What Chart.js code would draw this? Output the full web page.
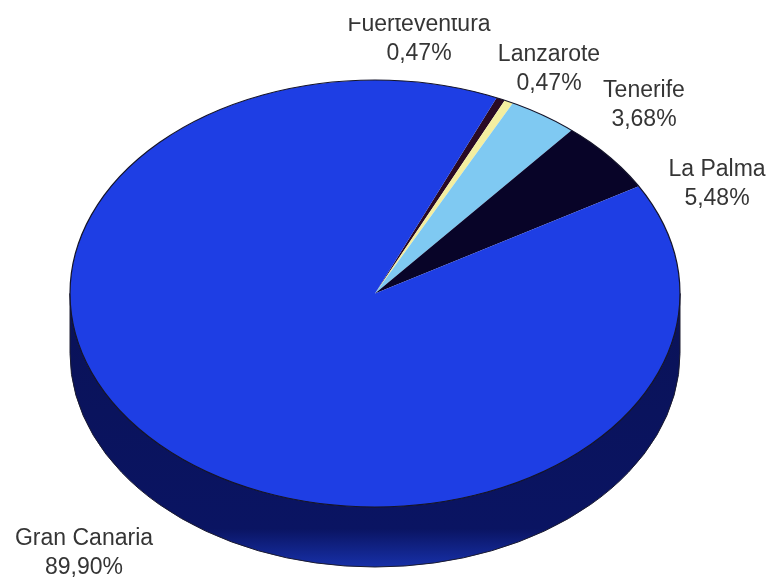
<!DOCTYPE html>
<html>
<head>
<meta charset="utf-8">
<style>
  html, body { margin: 0; padding: 0; background: #fff; }
  #wrap { width: 771px; height: 580px; }
</style>
<script src="https://cdn.jsdelivr.net/npm/chart.js@4"></script>
</head>
<body>
<div id="wrap"><canvas id="pie"></canvas></div>
<script>
const categories = ['Fuerteventura', 'Lanzarote', 'Tenerife', 'La Palma', 'Gran Canaria'];
const shares = [0.47, 0.47, 3.68, 5.48, 89.90];
const sliceColors = ['#2a0a24', '#f4eea0', '#7fc9f2', '#080428', '#1e3ee4'];

// label centres, same order as categories
const labelX = [419, 549, 644, 717, 84];
const labelY = [25, 55, 91, 170, 539];

const squash = 0.7;   // tilt of the pie
const depth = 60;     // height of the side wall

function tiltedPie(chart) {
    const arc = chart.getDatasetMeta(0).data[0];
    return { x: arc.x, y: arc.y, rx: arc.outerRadius, ry: arc.outerRadius * squash };
}

const tiltPlugin = {
    id: 'tilt',
    beforeDatasetsDraw(chart) {
        const ctx = chart.ctx;
        const p = tiltedPie(chart);

        // side wall, only the front half shows
        const wall = ctx.createLinearGradient(0, p.y, 0, p.y + p.ry + depth);
        wall.addColorStop(0, '#0a1258');
        wall.addColorStop(0.86, '#0a1462');
        wall.addColorStop(1, '#1730a8');
        ctx.save();
        ctx.beginPath();
        ctx.ellipse(p.x, p.y + depth, p.rx, p.ry, 0, 0, Math.PI);
        ctx.lineTo(p.x - p.rx, p.y);
        ctx.ellipse(p.x, p.y, p.rx, p.ry, 0, Math.PI, 0, true);
        ctx.closePath();
        ctx.fillStyle = wall;
        ctx.fill();
        ctx.strokeStyle = '#1c1c30';
        ctx.lineWidth = 1;
        ctx.stroke();
        ctx.restore();

        ctx.save();
        ctx.translate(p.x, p.y);
        ctx.scale(1, squash);
        ctx.translate(-p.x, -p.y);
    },
    afterDatasetsDraw(chart) {
        const ctx = chart.ctx;
        ctx.restore();
        const p = tiltedPie(chart);
        ctx.save();
        ctx.beginPath();
        ctx.ellipse(p.x, p.y, p.rx, p.ry, 0, 0, Math.PI * 2);
        ctx.strokeStyle = '#14142a';
        ctx.lineWidth = 1.2;
        ctx.stroke();
        ctx.restore();
    },
    afterDraw(chart) {
        const ctx = chart.ctx;
        ctx.save();
        ctx.font = '23px "Liberation Sans"';
        ctx.fillStyle = '#353535';
        ctx.textAlign = 'center';
        ctx.textBaseline = 'middle';
        categories.forEach((name, i) => {
            ctx.save();
            if (i === 0) {
                // top of this label is cut off in the original
                ctx.beginPath();
                ctx.rect(0, 18, 771, 562);
                ctx.clip();
            }
            ctx.fillText(name, labelX[i], labelY[i]);
            ctx.restore();
            ctx.fillText(shares[i].toFixed(2).replace('.', ',') + '%', labelX[i], labelY[i] + 29);
        });
        ctx.restore();
    }
};

new Chart(document.getElementById('pie'), {
    type: 'pie',
    data: {
        labels: categories,
        datasets: [{
            data: shares,
            backgroundColor: sliceColors,
            borderWidth: 0
        }]
    },
    options: {
        responsive: true,
        maintainAspectRatio: false,
        animation: false,
        rotation: 23.5,
        radius: 305,
        layout: { padding: { left: 0, right: 21, top: 7, bottom: 0 } },
        plugins: {
            legend: { display: false },
            tooltip: { enabled: false }
        }
    },
    plugins: [tiltPlugin]
});
</script>
</body>
</html>
